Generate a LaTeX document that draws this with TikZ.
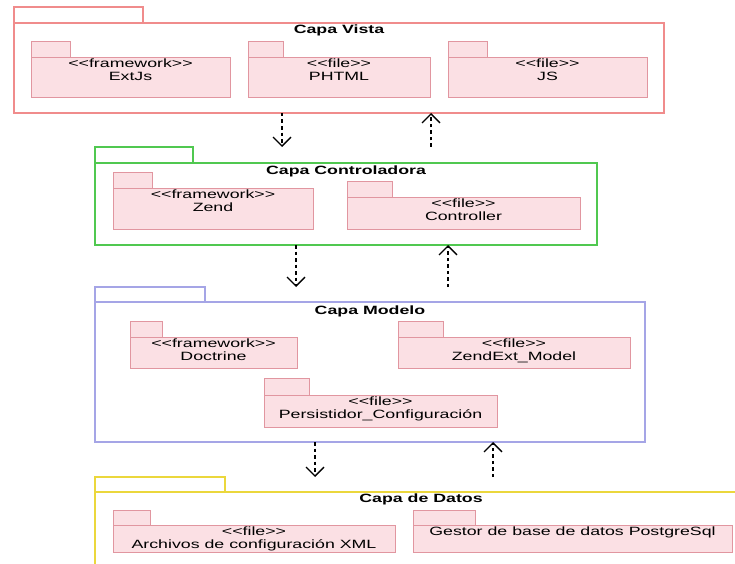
\documentclass[tikz,border=0pt]{standalone}
\usepackage{fontspec}
\setmainfont{Liberation Sans}[FakeStretch=1.48]
\usetikzlibrary{arrows.meta}
\definecolor{vistac}{RGB}{240,140,140}
\definecolor{ctrlc}{RGB}{80,200,80}
\definecolor{modc}{RGB}{165,165,230}
\definecolor{datc}{RGB}{235,215,60}
\definecolor{pkgfill}{RGB}{251,224,228}
\definecolor{pkgline}{RGB}{225,150,160}
\newcommand\stereo[1]{<{}<#1>{}>}
\newcommand\umlpkg[8]{% #1 name, #2 x, #3 tab top y, #4 tab width, #5 tab height, #6 body width, #7 body height, #8 text
  \node[pkgbox, minimum width=#4bp, minimum height=#5bp] (#1tab) at (#2,#3) {};
  \node[pkgbox, minimum width=#6bp, minimum height=#7bp] (#1) at (#1tab.south west) {};
  \node[pkgtext] (#1text) at ([yshift=-2bp]#1.north) {#8};
}
\begin{document}
\begin{tikzpicture}[x=1bp,y=-1bp,
  layer/.style={draw, line width=1.3bp, inner sep=0pt, outer sep=0pt, anchor=north west},
  pkgbox/.style={draw=pkgline, fill=pkgfill, line width=0.8bp, inner sep=0pt, outer sep=0pt, anchor=north west},
  pkgtext/.style={anchor=north, align=center, inner sep=0pt, font=\fontsize{12bp}{13bp}\selectfont},
  ttl/.style={anchor=center, inner sep=0pt, font=\fontsize{12bp}{13bp}\selectfont\bfseries},
  dep/.style={draw=black, line width=1.3bp, dash pattern=on 3.5bp off 3bp, -{Straight Barb[length=9bp,width=18bp]}}]
\clip (0,0) rectangle (735,564);
\fill[white] (0,0) rectangle (735,564);

% Capa Vista
\node[layer, draw=vistac, minimum width=129bp, minimum height=16bp] (vistatab) at (14,7) {};
\node[layer, draw=vistac, minimum width=650bp, minimum height=90bp] (vista) at (14,23) {};
\node[ttl] (vistaT) at (339,30) {Capa Vista};
\umlpkg{extjs}{31}{41}{39}{16}{199}{40}{\stereo{framework}\\ExtJs}
\umlpkg{phtml}{248}{41}{35}{16}{182}{40}{\stereo{file}\\PHTML}
\umlpkg{js}{448}{41}{39}{16}{199}{40}{\stereo{file}\\JS}

% Capa Controladora
\node[layer, draw=ctrlc, minimum width=98bp, minimum height=16bp] (ctrltab) at (95,147) {};
\node[layer, draw=ctrlc, minimum width=502bp, minimum height=82bp] (ctrl) at (95,163) {};
\node[ttl] (ctrlT) at (346,171) {Capa Controladora};
\umlpkg{zend}{113}{172}{39}{16}{200}{41}{\stereo{framework}\\Zend}
\umlpkg{controller}{347}{181}{45}{16}{233}{32}{\stereo{file}\\Controller}

% Capa Modelo
\node[layer, draw=modc, minimum width=110bp, minimum height=15bp] (modtab) at (95,287) {};
\node[layer, draw=modc, minimum width=550bp, minimum height=140bp] (mod) at (95,302) {};
\node[ttl] (modT) at (370,311) {Capa Modelo};
\umlpkg{doctrine}{130}{321}{32}{16}{167}{31}{\stereo{framework}\\Doctrine}
\umlpkg{zendext}{398}{321}{45}{16}{232}{31}{\stereo{file}\\ZendExt\_Model}
\umlpkg{persist}{264}{378}{45}{17}{233}{32}{\stereo{file}\\Persistidor\_Configuración}

% Capa de Datos
\node[layer, draw=datc, minimum width=130bp, minimum height=15bp] (dattab) at (95,477) {};
\node[layer, draw=datc, minimum width=652bp, minimum height=100bp] (dat) at (95,492) {};
\node[ttl] (datT) at (421,499) {Capa de Datos};
\umlpkg{xml}{113}{510}{37}{15}{282}{27}{\stereo{file}\\Archivos de configuración XML}
\umlpkg{gestor}{413}{510}{62}{15}{319}{27}{Gestor de base de datos PostgreSql}

% dependency arrows
\coordinate (a1) at (282,0);
\coordinate (b1) at (431,0);
\coordinate (a2) at (296,0);
\coordinate (b2) at (448,0);
\coordinate (a3) at (315,0);
\coordinate (b3) at (493,0);
\draw[dep] (a1 |- vista.south) -- (a1 |- ctrltab.north);
\draw[dep] (b1 |- ctrltab.north) -- (b1 |- vista.south);
\draw[dep] (a2 |- ctrl.south) -- (a2 |- modtab.north);
\draw[dep] (b2 |- modtab.north) -- (b2 |- ctrl.south);
\draw[dep] (a3 |- mod.south) -- (a3 |- dattab.north);
\draw[dep] (b3 |- dattab.north) -- (b3 |- mod.south);
\end{tikzpicture}
\end{document}
